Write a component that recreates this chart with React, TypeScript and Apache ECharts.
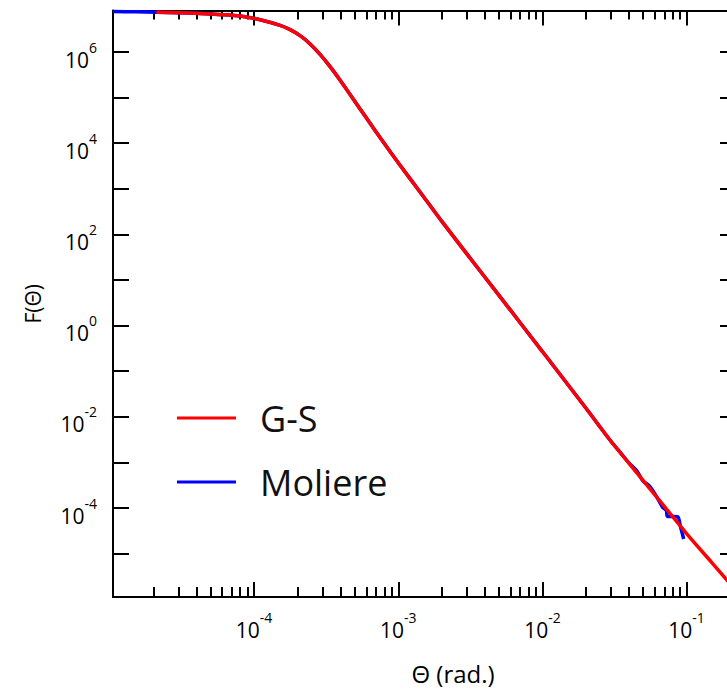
import React, { useEffect, useRef } from 'react';
import * as echarts from 'echarts';

// Goudsmit-Saunderson (G-S) distribution: scattering angle (rad) and F(theta)
const thetaGS = [
  2.1e-5, 3e-5, 4.2e-5, 6e-5, 8e-5, 1.1e-4, 1.515e-4, 1.778e-4, 2.085e-4, 2.446e-4,
  2.869e-4, 3.366e-4, 3.949e-4, 4.633e-4, 5.434e-4, 6.375e-4, 7.478e-4, 1.029e-3, 1.416e-3,
  2e-3, 3e-3, 5e-3, 1e-2, 2e-2, 2.94e-2, 5e-2, 1e-1, 1.5e-1, 2e-1,
];
const fGS = [
  7.4e6, 7.25e6, 7.0e6, 6.6e6, 6.15e6, 5.1e6, 3.83e6, 3.09e6, 2.28e6, 1.505e6,
  8.86e5, 4.77e5, 2.41e5, 1.175e5, 5.65e4, 2.74e4, 1.33e4, 3.28e3, 851,
  195, 37, 4.6, 0.27, 0.0156, 3.1e-3, 4.0e-4, 2.76e-5, 6.3e-6, 2.2e-6,
];

// Moliere distribution
const thetaMol = [
  1.05e-5, 1.5e-5, 2.1e-5, 3e-5, 4.2e-5, 6e-5, 8e-5, 1.1e-4, 1.515e-4, 1.778e-4,
  2.085e-4, 2.446e-4, 2.869e-4, 3.366e-4, 3.949e-4, 4.633e-4, 5.434e-4, 6.375e-4, 7.478e-4,
  1.029e-3, 1.416e-3, 2e-3, 3e-3, 5e-3, 1e-2, 2e-2, 2.94e-2, 0.035, 0.04, 0.045,
  0.05, 0.055, 0.06, 0.065, 0.068, 0.0725, 0.0735, 0.08, 0.087, 0.0905, 0.0955,
];
const fMol = [
  7.7e6, 7.6e6, 7.45e6, 7.25e6, 7.0e6, 6.6e6, 6.15e6, 5.1e6, 3.83e6, 3.09e6,
  2.28e6, 1.505e6, 8.86e5, 4.77e5, 2.41e5, 1.175e5, 5.65e4, 2.74e4, 1.33e4,
  3.28e3, 851, 195, 37, 4.6, 0.27, 0.0156, 3.1e-3, 1.6e-3, 9.6e-4, 6.6e-4,
  3.9e-4, 3.1e-4, 2.1e-4, 1.35e-4, 1.05e-4, 8.8e-5, 6.6e-5, 6.5e-5, 6.4e-5, 4.0e-5, 2.1e-5,
];

// Axis ranges and tick labels (powers of ten)
const THETA_RANGE = [1.05e-5, 0.2];
const F_RANGE = [1.12e-6, 8.13e6];
const xLabelExps = [-4, -3, -2, -1];
const xDecadeStarts = [-5, -4, -3, -2, -1];
const yTickExps = [-5, -4, -3, -2, -1, 0, 1, 2, 3, 4, 5, 6];
const yLabelExps = [-4, -2, 0, 2, 4, 6];
const minorMultipliers = [2, 3, 4, 5, 6, 7, 8, 9];

const FONT = 'Open Sans';

export default function App() {
  const ref = useRef<HTMLDivElement>(null);

  useEffect(() => {
    if (!ref.current) return;
    const chart = echarts.init(ref.current, undefined, { renderer: 'svg' });

    const lx0 = Math.log10(THETA_RANGE[0]);
    const lx1 = Math.log10(THETA_RANGE[1]);
    const ly0 = Math.log10(F_RANGE[0]);
    const ly1 = Math.log10(F_RANGE[1]);

    const xMinor: number[] = [];
    xDecadeStarts.forEach((d) => {
      minorMultipliers.forEach((m) => {
        const v = Math.log10(m) + d;
        if (v > lx0 && v < lx1) xMinor.push(v);
      });
    });

    const rich = {
      b: { fontFamily: FONT, fontSize: 21, lineHeight: 30, verticalAlign: 'bottom', color: '#000' },
      s: { fontFamily: FONT, fontSize: 14, lineHeight: 14, verticalAlign: 'top', color: '#000' },
    };
    const fmt = (v: number) => `{b|10}{s|${Math.round(v)}}`;
    const black = { color: '#000', width: 2 };

    const xBase = {
      type: 'value',
      min: lx0,
      max: lx1,
      splitLine: { show: false },
      axisLine: { show: true, onZero: false, lineStyle: black },
    };
    const yBase = {
      type: 'value',
      min: ly0,
      max: ly1,
      splitLine: { show: false },
      axisLine: { show: true, onZero: false, lineStyle: black },
    };

    const toPairs = (xs: number[], ys: number[]) =>
      xs.map((t, i) => [Math.log10(t), Math.log10(ys[i])]);

    chart.setOption({
      animation: false,
      grid: { left: 113, top: 10.5, width: 617, height: 586.5, outerBoundsMode: 'none', containLabel: false },
      legend: {
        orient: 'vertical',
        left: 177,
        top: 398,
        padding: 0,
        itemWidth: 59,
        itemHeight: 3,
        itemGap: 24,
        icon: 'rect',
        selectedMode: false,
        data: ['G-S', 'Moliere'],
        textStyle: { fontFamily: FONT, fontSize: 36, lineHeight: 40, color: '#111', padding: [0, 0, 0, 19] },
      },
      xAxis: [
        {
          ...xBase,
          position: 'bottom',
          axisTick: { show: true, inside: true, length: 15, customValues: xLabelExps, lineStyle: black },
          axisLabel: { show: true, customValues: xLabelExps, formatter: fmt, rich, margin: 13 },
          name: 'Θ (rad.)',
          nameLocation: 'middle',
          nameGap: 64,
          nameTextStyle: { fontFamily: FONT, fontSize: 24, color: '#000', padding: [0, 0, 0, 63] },
        },
        {
          ...xBase,
          position: 'bottom',
          axisTick: { show: true, inside: true, length: 10, customValues: xMinor, lineStyle: black },
          axisLabel: { show: false },
        },
        {
          ...xBase,
          position: 'top',
          axisTick: { show: true, inside: true, length: 15, customValues: xLabelExps, lineStyle: black },
          axisLabel: { show: false },
        },
        {
          ...xBase,
          position: 'top',
          axisTick: { show: true, inside: true, length: 9, customValues: xMinor, lineStyle: black },
          axisLabel: { show: false },
        },
      ],
      yAxis: [
        {
          ...yBase,
          position: 'left',
          axisTick: { show: true, inside: true, length: 16, customValues: yTickExps, lineStyle: black },
          axisLabel: { show: true, customValues: yLabelExps, formatter: fmt, rich, margin: 16, padding: [6, 0, 0, 0] },
          name: 'F(Θ)',
          nameLocation: 'middle',
          nameGap: 70,
          nameTextStyle: { fontFamily: FONT, fontSize: 21, color: '#000' },
        },
        {
          ...yBase,
          position: 'right',
          axisTick: { show: true, inside: true, length: 10, customValues: yTickExps, lineStyle: black },
          axisLabel: { show: false },
        },
      ],
      series: [
        {
          type: 'line',
          name: 'Moliere',
          xAxisIndex: 0,
          yAxisIndex: 0,
          data: toPairs(thetaMol, fMol),
          showSymbol: false,
          symbol: 'none',
          smooth: 0.25,
          lineStyle: { color: '#0000ff', width: 3.5 },
          itemStyle: { color: '#0000ff' },
          z: 2,
        },
        {
          type: 'line',
          name: 'G-S',
          xAxisIndex: 0,
          yAxisIndex: 0,
          data: toPairs(thetaGS, fGS),
          showSymbol: false,
          symbol: 'none',
          smooth: 0.25,
          lineStyle: { color: '#ff0000', width: 3.5 },
          itemStyle: { color: '#ff0000' },
          z: 3,
        },
      ],
    });

    return () => chart.dispose();
  }, []);

  return (
    <div
      ref={ref}
      style={{ position: 'fixed', left: 0, top: 0, width: 740, height: 690, background: '#fff' }}
    />
  );
}
